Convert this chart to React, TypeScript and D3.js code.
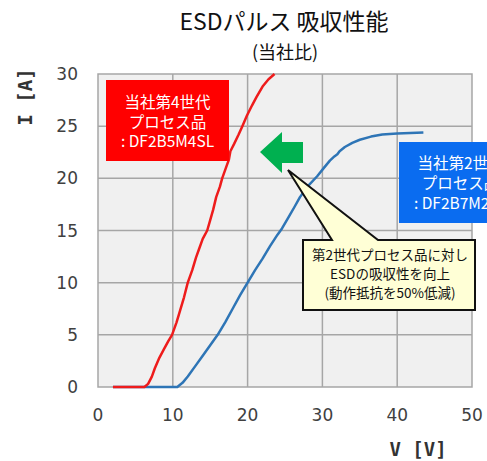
import React from "react";
import * as d3 from "d3";

const title = "ESDパルス 吸収性能";
const subtitle = "(当社比)";
const xTicks = [0, 10, 20, 30, 40, 50];
const yTicks = [0, 5, 10, 15, 20, 25, 30];
const xLabel = "V [V]";
const yLabel = "I [A]";

// 4th generation (DF2B5M4SL) : [V, I]
const redSeries: [number, number][] = [
  [2, 0], [6.2, 0], [6.7, 0.3], [7.2, 1], [7.6, 1.8], [8.2, 2.8], [8.8, 3.6], [9.4, 4.4],
  [9.9, 5], [10.5, 6.2], [11, 7.4], [11.5, 8.6], [12, 10], [12.6, 11.2], [13.1, 12.4],
  [13.5, 13.2], [14, 14.2], [14.6, 15], [15, 16], [15.4, 17], [15.8, 18.2], [16.3, 19.2],
  [16.6, 20], [17.1, 21], [17.5, 21.8], [17.7, 22.6], [18.2, 23.3], [18.8, 24.2], [19.3, 25],
  [19.9, 26], [20.6, 27], [21.2, 27.8], [22, 28.8], [22.8, 29.5], [23.6, 30],
];
// 2nd generation (DF2B7M2SL)
const blueSeries: [number, number][] = [
  [2, 0], [10.6, 0], [11.3, 0.4], [12, 1], [13, 2], [14, 3], [15, 4], [16, 5], [17, 6.2],
  [18, 7.5], [19, 8.8], [20, 10], [21, 11.2], [22, 12.3], [23, 13.5], [24, 14.6], [24.6, 15.2],
  [25.5, 16.3], [26.3, 17.3], [27, 18.2], [28, 19.2], [29.3, 20.2], [30.2, 21], [31, 21.7],
  [31.6, 22.1], [32, 22.3], [32.3, 22.6], [33, 23], [34, 23.4], [35, 23.7], [36.5, 24],
  [38, 24.2], [40, 24.3], [43.5, 24.4],
];

const redLabel = ["当社第4世代", "プロセス品", ": DF2B5M4SL"];
const blueLabel = ["当社第2世代", "プロセス品", ": DF2B7M2SL"];
const calloutText = ["第2世代プロセス品に対し", "ESDの吸収性を向上", "(動作抵抗を50%低減)"];

const W = 487;
const H = 461;
const PL = 98, PR = 472, PT = 74, PB = 387;
const JP = "'Noto Sans CJK JP', 'Noto Sans', sans-serif";

export default function App() {
  const x = d3.scaleLinear().domain([0, 50]).range([PL, PR]);
  const y = d3.scaleLinear().domain([0, 30]).range([PB, PT]);
  const line = d3.line<[number, number]>().x((d) => x(d[0])).y((d) => y(d[1])).curve(d3.curveLinear);

  const gridColor = "#a6a6a6";

  const callout = `M303,240 L332,240 L288,170 L378,240 L475,240 L475,310 L303,310 Z`;
  const arrow = `M260,152 L282,132 L282,142 L303,142 L303,163 L282,163 L282,173 Z`;

  return (
    <svg width={W} height={H} style={{ position: "absolute", left: 0, top: 0, background: "#fff" }}>
      <text x={284} y={30} textAnchor="middle" fontFamily={JP} fontSize={23} fill="#111">{title}</text>
      <text x={285} y={59} textAnchor="middle" fontFamily={JP} fontSize={18} fill="#111">{subtitle}</text>

      <rect x={PL} y={PT} width={PR - PL} height={PB - PT} fill="#f0f0f0" />
      {xTicks.slice(1, -1).map((t) => (
        <line key={"gx" + t} x1={x(t)} x2={x(t)} y1={PT} y2={PB} stroke={gridColor} strokeWidth={1.5} />
      ))}
      {yTicks.slice(1, -1).map((t) => (
        <line key={"gy" + t} x1={PL} x2={PR} y1={y(t)} y2={y(t)} stroke={gridColor} strokeWidth={1.5} />
      ))}
      <rect x={PL} y={PT} width={PR - PL} height={PB - PT} fill="none" stroke={gridColor} strokeWidth={1.5} />

      {yTicks.map((t) => (
        <text key={"ty" + t} x={78} y={y(t) + 6} textAnchor="end" fontFamily="'DejaVu Sans', Verdana, sans-serif" fontSize={17} fill="#404040">{t}</text>
      ))}
      {xTicks.map((t) => (
        <text key={"tx" + t} x={x(t)} y={421} textAnchor="middle" fontFamily="'DejaVu Sans', Verdana, sans-serif" fontSize={17} fill="#404040">{t}</text>
      ))}
      <text x={418} y={456} textAnchor="middle" fontFamily="'DejaVu Sans Mono', monospace" fontWeight="bold" fontSize={19} fill="#333">{xLabel}</text>
      <text transform="translate(32,97) rotate(-90)" textAnchor="middle" fontFamily="'DejaVu Sans Mono', monospace" fontWeight="bold" fontSize={19} fill="#333">{yLabel}</text>

      <path d={line(blueSeries) || ""} fill="none" stroke="#2e75b6" strokeWidth={2.5} strokeLinejoin="round" />
      <path d={line(redSeries) || ""} fill="none" stroke="#ee1c1c" strokeWidth={2.5} strokeLinejoin="round" />

      <rect x={106} y={80} width={123} height={81} fill="#ff0000" />
      {redLabel.map((s, i) => (
        <text key={"rl" + i} x={167.5} y={108 + i * 19.5} textAnchor="middle" fontFamily={JP} fontSize={15.5} fill="#fff">{s}</text>
      ))}

      <rect x={399} y={142} width={123} height={81} fill="#0a6cf0" />
      {blueLabel.map((s, i) => (
        <text key={"bl" + i} x={460.5} y={168.5 + i * 20} textAnchor="middle" fontFamily={JP} fontSize={15.5} fill="#fff">{s}</text>
      ))}

      <path d={arrow} fill="#00b050" />

      <path d={callout} fill="#ffffd6" stroke="#111" strokeWidth={2} strokeLinejoin="miter" />
      {calloutText.map((s, i) => (
        <text key={"cl" + i} x={390} y={260 + i * 19} textAnchor="middle" fontFamily={JP} fontSize={13.5} fill="#111">{s}</text>
      ))}
    </svg>
  );
}
